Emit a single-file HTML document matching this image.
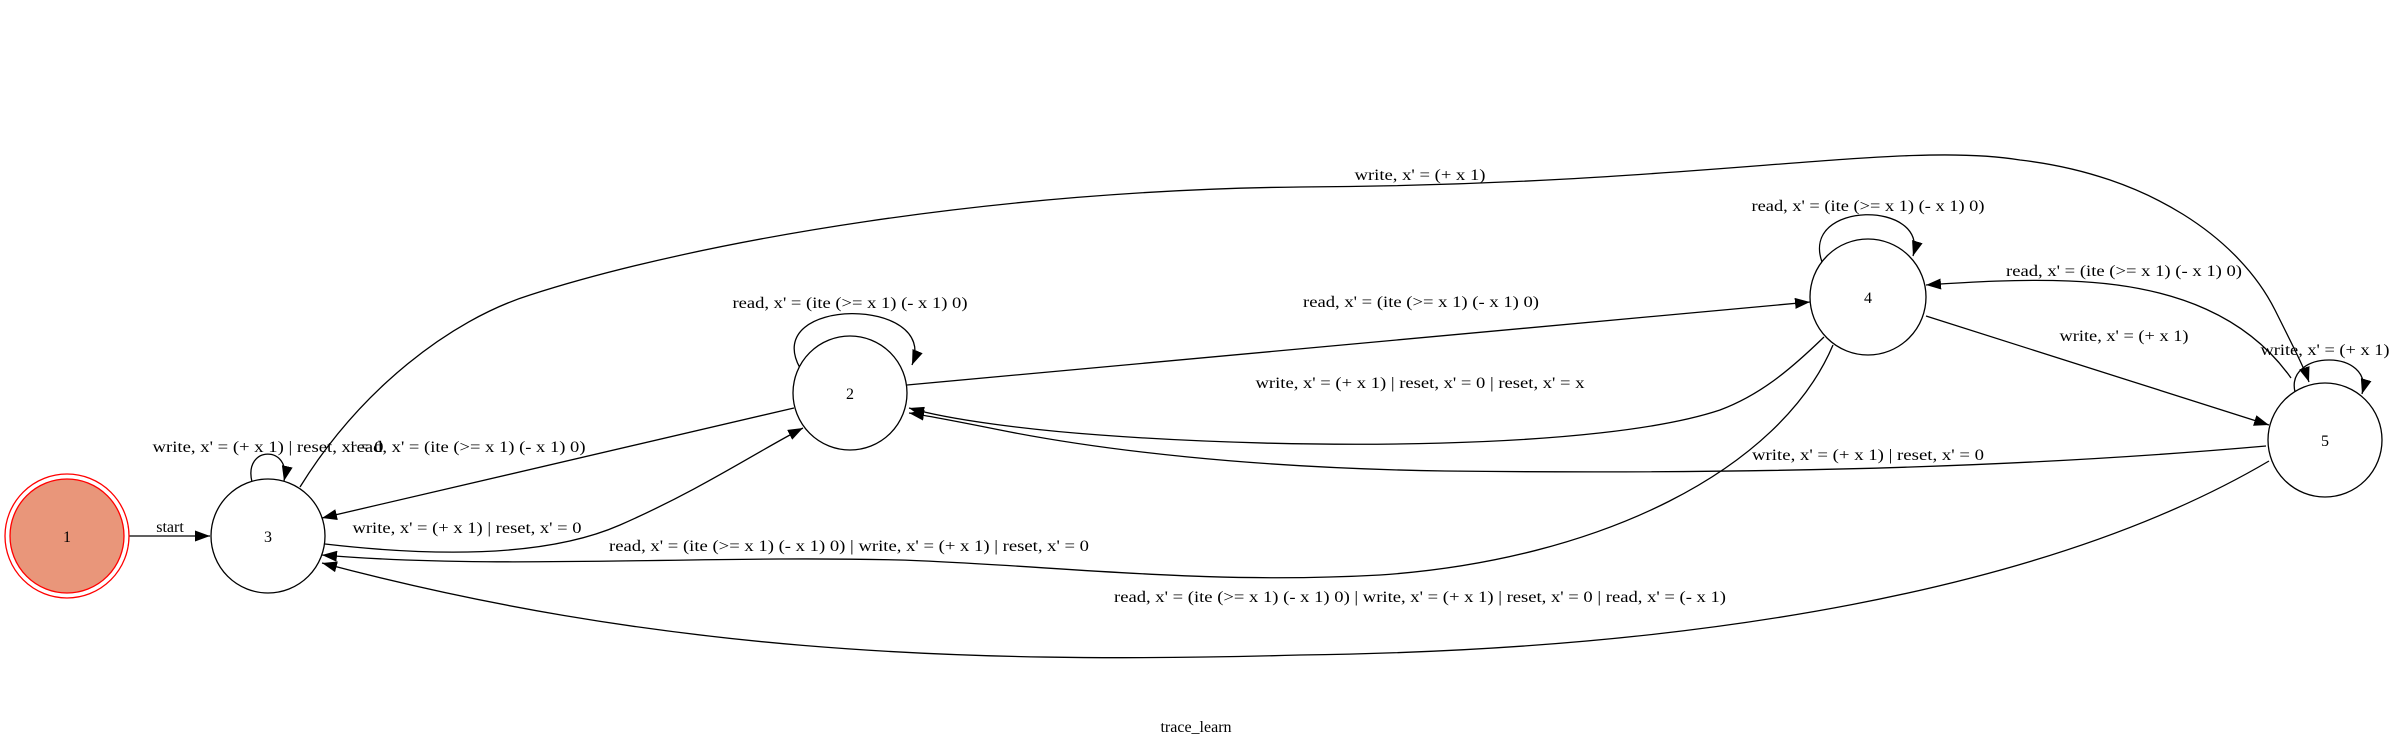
<!DOCTYPE html>
<html><head><meta charset="utf-8"><style>
html,body{margin:0;padding:0;background:#fff;}
svg{display:block;}
text{font-family:"Liberation Serif",serif;font-size:16px;fill:#000;}
</style></head><body>
<svg width="2396" height="753" viewBox="0 0 2396 753">
<defs>
<marker id="ah" markerUnits="userSpaceOnUse" markerWidth="15" markerHeight="11" refX="15" refY="5.5" orient="auto">
<path d="M0,0 L15,5.5 L0,11 z" fill="#000"/>
</marker>
</defs>
<g fill="none" stroke="#000" stroke-width="1.3" marker-end="url(#ah)">
<path d="M129,536 L210,536"/>
<path d="M252,482 C243,445 292,445 284,481"/>
<path d="M300,487 C360,390 450,320 530,295 C700,240 1000,190 1300,187 C1700,185 1900,140 2020,160 C2150,175 2240,240 2275,310 C2295,350 2305,370 2309,382"/>
<path d="M800,368 C760,296 940,296 912,365"/>
<path d="M794,408 L322,518"/>
<path d="M325,544 C420,555 540,560 620,525 C700,490 760,450 803,428"/>
<path d="M907,385 L1810,302"/>
<path d="M1824,337 C1790,370 1760,395 1720,410 C1600,450 1300,450 1100,435 C1030,430 950,420 909,408"/>
<path d="M2266,446 C2050,465 1800,475 1445,471 C1250,468 1100,450 1000,430 C960,422 930,416 909,413"/>
<path d="M1833,345 C1780,470 1600,560 1380,575 C1200,585 1050,565 900,560 C700,555 500,570 322,555"/>
<path d="M2269,461 C2050,590 1700,650 1300,655 C950,665 650,650 322,563"/>
<path d="M1822,262 C1800,200 1930,200 1913,256"/>
<path d="M2291,378 C2250,320 2180,285 2069,281 C2020,279 1970,282 1926,285"/>
<path d="M1926,316 L2269,425"/>
<path d="M2295,392 C2285,349 2375,349 2362,394"/>
</g>
<g>
<circle cx="67" cy="536" r="62" fill="none" stroke="#f00" stroke-width="1.3"/>
<circle cx="67" cy="536" r="57" fill="#e9967a" stroke="#f00" stroke-width="1.3"/>
<text x="67" y="542" text-anchor="middle">1</text>
</g>
<g fill="#fff" stroke="#000" stroke-width="1.3">
<circle cx="268" cy="536" r="57"/>
<circle cx="850" cy="393" r="57"/>
<circle cx="1868" cy="297" r="58"/>
<circle cx="2325" cy="440" r="57"/>
</g>
<g text-anchor="middle">
<text x="268" y="542">3</text>
<text x="850" y="399">2</text>
<text x="1868" y="303">4</text>
<text x="2325" y="446">5</text>
<text x="170" y="532">start</text>
<text x="268" y="452" textLength="231" lengthAdjust="spacingAndGlyphs">write, x' = (+ x 1) | reset, x' = 0</text>
<text x="468" y="452" textLength="235" lengthAdjust="spacingAndGlyphs">read, x' = (ite (&gt;= x 1) (- x 1) 0)</text>
<text x="1420" y="180" textLength="131" lengthAdjust="spacingAndGlyphs">write, x' = (+ x 1)</text>
<text x="850" y="308" textLength="235" lengthAdjust="spacingAndGlyphs">read, x' = (ite (&gt;= x 1) (- x 1) 0)</text>
<text x="467" y="533" textLength="229" lengthAdjust="spacingAndGlyphs">write, x' = (+ x 1) | reset, x' = 0</text>
<text x="1421" y="307" textLength="236" lengthAdjust="spacingAndGlyphs">read, x' = (ite (&gt;= x 1) (- x 1) 0)</text>
<text x="1420" y="388" textLength="329" lengthAdjust="spacingAndGlyphs">write, x' = (+ x 1) | reset, x' = 0 | reset, x' = x</text>
<text x="1868" y="460" textLength="232" lengthAdjust="spacingAndGlyphs">write, x' = (+ x 1) | reset, x' = 0</text>
<text x="849" y="551" textLength="480" lengthAdjust="spacingAndGlyphs">read, x' = (ite (&gt;= x 1) (- x 1) 0) | write, x' = (+ x 1) | reset, x' = 0</text>
<text x="1420" y="602" textLength="612" lengthAdjust="spacingAndGlyphs">read, x' = (ite (&gt;= x 1) (- x 1) 0) | write, x' = (+ x 1) | reset, x' = 0 | read, x' = (- x 1)</text>
<text x="1868" y="211" textLength="233" lengthAdjust="spacingAndGlyphs">read, x' = (ite (&gt;= x 1) (- x 1) 0)</text>
<text x="2124" y="276" textLength="236" lengthAdjust="spacingAndGlyphs">read, x' = (ite (&gt;= x 1) (- x 1) 0)</text>
<text x="2124" y="341" textLength="129" lengthAdjust="spacingAndGlyphs">write, x' = (+ x 1)</text>
<text x="2325" y="355" textLength="129" lengthAdjust="spacingAndGlyphs">write, x' = (+ x 1)</text>
<text x="1196" y="732">trace_learn</text>
</g>
</svg>
</body></html>
